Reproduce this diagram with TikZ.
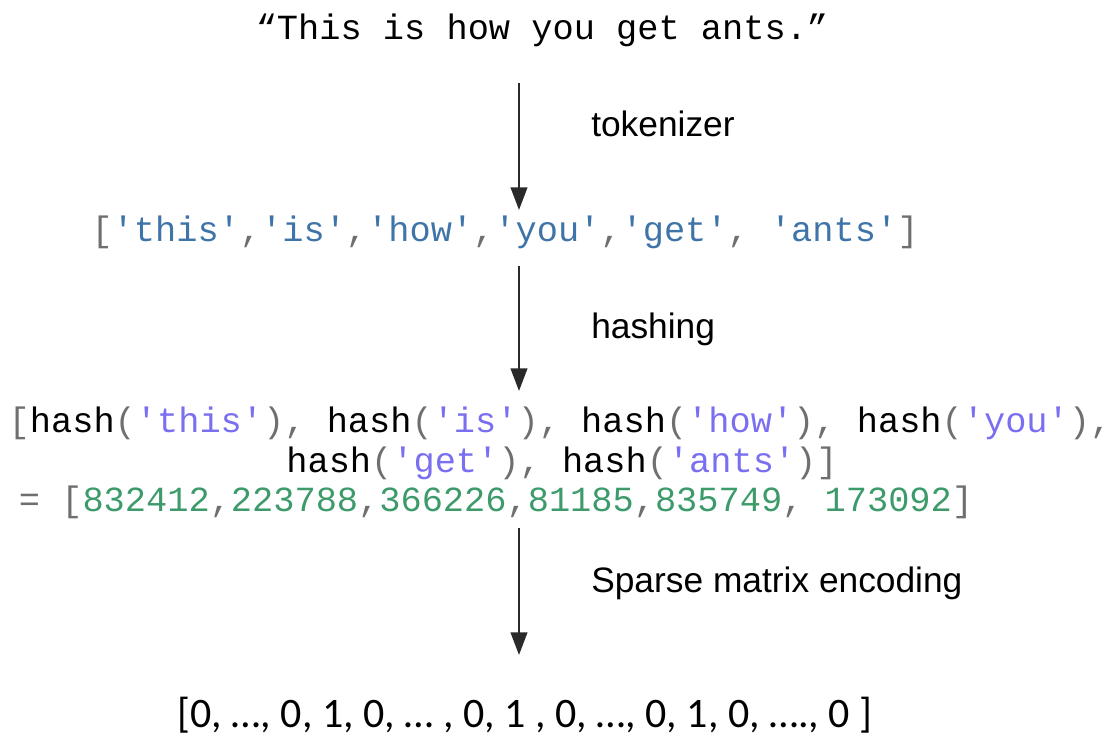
\documentclass[tikz,border=0pt]{standalone}
\usepackage{fontspec}
\setmainfont{Liberation Sans}
\setmonofont{Liberation Mono}
\newfontfamily\carl{Carlito}
\usetikzlibrary{arrows.meta}
\definecolor{strblue}{HTML}{3F74A8}
\definecolor{strviolet}{HTML}{7A6FF0}
\definecolor{numgreen}{HTML}{3D9B6B}
\definecolor{punct}{HTML}{6F6F6F}
\definecolor{arrowgray}{HTML}{2A2A2A}
\newcommand{\mypu}[1]{\textcolor{punct}{#1}}
\newcommand{\mysb}[1]{\textcolor{strblue}{#1}}
\newcommand{\mysv}[1]{\textcolor{strviolet}{#1}}
\newcommand{\myng}[1]{\textcolor{numgreen}{#1}}
\begin{document}
\begin{tikzpicture}[x=0.75pt,y=-0.75pt,
  mono/.style={font=\ttfamily\fontsize{26.5}{30}\selectfont, anchor=base, inner sep=0pt},
  lbl/.style={font=\fontsize{26.5}{30}\selectfont, anchor=base west, inner sep=0pt},
  flow/.style={draw=arrowgray, line width=1.5pt, -{Triangle[length=17pt,width=12.5pt]}}]
\useasboundingbox (0,0) rectangle (1116,738);
\node[mono] (sent) at (542,40) {“This is how you get ants.”};
\node[mono] (tok) at (505,241) {\mypu{[}\mysb{'this'}\mypu{,}\mysb{'is'}\mypu{,}\mysb{'how'}\mypu{,}\mysb{'you'}\mypu{,}\mysb{'get'}\mypu{, }\mysb{'ants'}\mypu{]}};
\node[mono] (hash1) at (560,432) {\mypu{[}hash\mypu{(}\mysv{'this'}\mypu{), }hash\mypu{(}\mysv{'is'}\mypu{), }hash\mypu{(}\mysv{'how'}\mypu{), }hash\mypu{(}\mysv{'you'}\mypu{),}};
\node[mono] (hash2) at (562,472) {hash\mypu{(}\mysv{'get'}\mypu{), }hash\mypu{(}\mysv{'ants'}\mypu{)]}};
\node[mono] (nums) at (496,511) {\mypu{= [}\myng{832412}\mypu{,}\myng{223788}\mypu{,}\myng{366226}\mypu{,}\myng{81185}\mypu{,}\myng{835749}\mypu{, }\myng{173092}\mypu{]}};
\node[font=\carl\fontsize{31.5}{34}\selectfont, anchor=base, inner sep=0pt] (vec) at (525,727) {[0, …, 0, 1, 0, … , 0, 1 , 0, …, 0, 1, 0, …., 0 ]};
\node[lbl] (l1) at (591,137) {tokenizer};
\node[lbl] (l2) at (591,338) {hashing};
\node[lbl] (l3) at (591,592) {Sparse matrix encoding};
\coordinate (a1s) at (519,83);
\coordinate (a1e) at (519,210);
\coordinate (a2s) at (519,266);
\coordinate (a2e) at (519,391);
\coordinate (a3s) at (519,528);
\coordinate (a3e) at (519,655);
\draw[flow] (a1s) -- (a1e);
\draw[flow] (a2s) -- (a2e);
\draw[flow] (a3s) -- (a3e);
\end{tikzpicture}
\end{document}
